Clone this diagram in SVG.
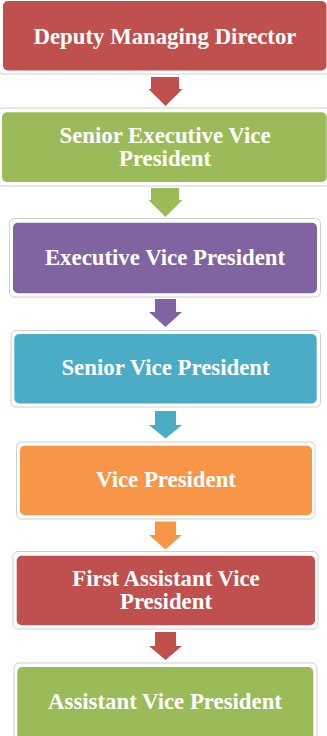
<svg xmlns="http://www.w3.org/2000/svg" width="327" height="736" viewBox="0 0 327 736">
<style>
.frame{fill:#ffffff;stroke:#cfcfcf;stroke-width:1}
.lbl{font-family:"Liberation Serif","Times New Roman",serif;font-weight:bold;font-size:22.8px;fill:#ffffff;text-anchor:middle}
.red{fill:#C0504D}.green{fill:#9BBB59}.purple{fill:#8064A2}.blue{fill:#4BACC6}.orange{fill:#F79646}
</style>
<rect width="327" height="736" fill="#ffffff"/>
<g id="connectors">
<path class="red" d="M151,77 H179 V89 H182.5 L165.5,106 L148.5,89 H151 Z"/>
<path class="green" d="M151,188 H179 V200 H182.5 L165.5,217 L148.5,200 H151 Z"/>
<path class="purple" d="M155,299 H176 V312 H182 L165.5,327 L149,312 H155 Z"/>
<path class="blue" d="M155,411 H176 V425 H182 L165.5,438.5 L149,425 H155 Z"/>
<path class="orange" d="M155,521.5 H176 V535 H182 L165.5,549.5 L149,535 H155 Z"/>
<path class="red" d="M155,632 H176 V646 H182 L165.5,660 L149,646 H155 Z"/>
</g>
<g id="node1">
<rect class="frame" x="-1" y="-4" width="331" height="78" rx="4"/>
<rect class="red" x="3" y="1" width="323.5" height="69.5" rx="5"/>
<text class="lbl" x="165" y="43.5">Deputy Managing Director</text>
</g>
<g id="node2">
<rect class="frame" x="-2" y="108" width="332" height="78" rx="4"/>
<rect class="green" x="2" y="112.3" width="324.7" height="69.7" rx="5"/>
<text class="lbl" x="165" y="142.7">Senior Executive Vice</text>
<text class="lbl" x="165" y="165.5">President</text>
</g>
<g id="node3">
<rect class="frame" x="9.5" y="218.5" width="311" height="78.5" rx="5"/>
<rect class="purple" x="13" y="222.7" width="304" height="70.5" rx="5"/>
<text class="lbl" x="165" y="265">Executive Vice President</text>
</g>
<g id="node4">
<rect class="frame" x="11" y="330.5" width="309.5" height="76.5" rx="5"/>
<rect class="blue" x="14.3" y="334" width="302.4" height="69.5" rx="5"/>
<text class="lbl" x="165.5" y="375">Senior Vice President</text>
</g>
<g id="node5">
<rect class="frame" x="16.5" y="442" width="298.5" height="77" rx="5"/>
<rect class="orange" x="20" y="445.7" width="292" height="69.5" rx="5"/>
<text class="lbl" x="166" y="487">Vice President</text>
</g>
<g id="node6">
<rect class="frame" x="13" y="551.5" width="305" height="77.5" rx="5"/>
<rect class="red" x="16.7" y="555.7" width="298.3" height="69.5" rx="5"/>
<text class="lbl" x="166" y="586">First Assistant Vice</text>
<text class="lbl" x="166" y="609">President</text>
</g>
<g id="node7">
<rect class="frame" x="14" y="663" width="303" height="80" rx="5"/>
<rect class="green" x="17.3" y="667" width="296" height="75" rx="5"/>
<text class="lbl" x="165" y="709">Assistant Vice President</text>
</g>
</svg>
